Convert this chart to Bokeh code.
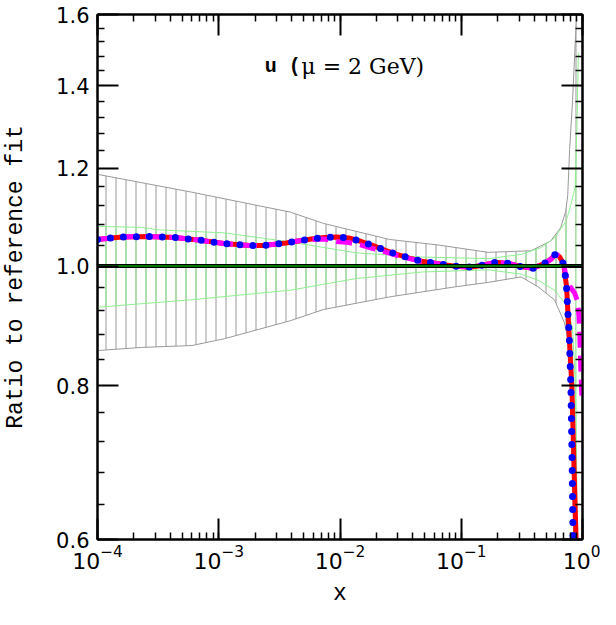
from bokeh.plotting import figure
from bokeh.models import (LogAxis, FixedTicker, LogTicker, PrintfTickFormatter,
                          CustomJSTickFormatter, Span, Label)
from bokeh.embed import file_html
from bokeh.resources import INLINE

# ---- central ratio curve (solid red / dotted blue share it up to x = 0.70) ----
x_fit = [1e-4, 1.3e-4, 1.6e-4, 2.6e-4, 4.3e-4, 6.8e-4, 1.1e-3, 1.8e-3, 2.3e-3, 3.6e-3,
         4.5e-3, 5.8e-3, 7.4e-3, 9.4e-3, 0.0118, 0.015, 0.0188, 0.0236, 0.0294, 0.0373,
         0.047, 0.059, 0.075, 0.0955, 0.121, 0.153, 0.192, 0.247, 0.31, 0.39,
         0.487, 0.55, 0.60, 0.65, 0.70]
r_fit = [1.051, 1.054, 1.056, 1.057, 1.055, 1.050, 1.043, 1.039, 1.039, 1.044,
         1.048, 1.052, 1.055, 1.056, 1.054, 1.047, 1.039, 1.030, 1.022, 1.015,
         1.009, 1.006, 1.002, 0.999, 0.998, 1.002, 1.007, 1.005, 0.999, 0.996,
         1.005, 1.013, 1.023, 1.017, 1.003]
# magenta dashed curve on the same x grid
m_fit = [1.051, 1.054, 1.056, 1.057, 1.055, 1.050, 1.043, 1.039, 1.039, 1.044,
         1.048, 1.051, 1.052, 1.047, 1.045, 1.040, 1.033, 1.027, 1.020, 1.014,
         1.009, 1.006, 1.002, 0.999, 0.998, 1.002, 1.007, 1.005, 0.999, 0.996,
         1.005, 1.013, 1.023, 1.018, 1.005]

# large-x tails
x_red_tail = [0.739, 0.78, 0.818, 0.85, 0.885, 0.91]
r_red_tail = [0.962, 0.871, 0.797, 0.692, 0.60, 0.53]
x_blue_tail = [0.723, 0.740, 0.759, 0.779, 0.803, 0.821, 0.836, 0.85]
r_blue_tail = [0.980, 0.958, 0.914, 0.873, 0.795, 0.692, 0.60, 0.54]
x_mag_tail = [0.72, 0.76, 0.79, 0.86, 0.91, 0.936, 0.951, 0.963, 0.99]
r_mag_tail = [0.988, 0.972, 0.962, 0.951, 0.936, 0.910, 0.878, 0.839, 0.78]

# ---- outer (gray) uncertainty band ----
gray_up_x = [1e-4, 6e-4, 3.9e-3, 7.3e-3, 0.0256, 0.0655, 0.167, 0.377, 0.546, 0.66,
             0.726, 0.755, 0.783, 0.828, 0.881, 0.91]
gray_up_y = [1.187, 1.148, 1.106, 1.083, 1.051, 1.040, 1.026, 1.029, 1.048, 1.074,
             1.107, 1.14, 1.243, 1.362, 1.557, 1.75]
gray_lo_x = [1e-4, 2.3e-4, 6e-4, 1.11e-3, 3.9e-3, 7.3e-3, 0.0256, 0.0897, 0.167, 0.312,
             0.43, 0.587, 0.709, 0.755, 0.80, 0.84, 0.86]
gray_lo_y = [0.854, 0.859, 0.862, 0.873, 0.903, 0.922, 0.944, 0.962, 0.970, 0.980,
             0.962, 0.939, 0.900, 0.873, 0.79, 0.62, 0.55]

# ---- inner (green) uncertainty band ----
green_up_x = [1e-4, 2.3e-4, 3.19e-4, 1.11e-3, 3.9e-3, 0.01368, 0.0476, 0.167, 0.312, 0.454,
              0.587, 0.731, 0.80, 0.87, 0.90, 0.925]
green_up_y = [1.077, 1.075, 1.070, 1.064, 1.046, 1.025, 1.017, 1.014, 1.022, 1.035,
              1.054, 1.087, 1.12, 1.16, 1.30, 1.49]
green_lo_x = [1e-4, 6e-4, 3.9e-3, 0.01368, 0.0476, 0.167, 0.312, 0.43, 0.587, 0.755,
              0.828, 0.86, 0.875, 0.893, 0.905, 0.915]
green_lo_y = [0.926, 0.939, 0.956, 0.977, 0.989, 0.993, 0.985, 0.974, 0.956, 0.927,
              0.889, 0.83, 0.79, 0.70, 0.60, 0.52]

# ---- ticks ----
y_major = [0.6, 0.8, 1.0, 1.2, 1.4, 1.6]
y_minor = [0.64, 0.68, 0.72, 0.76, 0.84, 0.88, 0.92, 0.96, 1.04, 1.08, 1.12, 1.16,
           1.24, 1.28, 1.32, 1.36, 1.44, 1.48, 1.52, 1.56]

x_red = x_fit + x_red_tail
y_red = r_fit + r_red_tail
x_blue = x_fit + x_blue_tail
y_blue = r_fit + r_blue_tail
x_mag = x_fit + x_mag_tail
y_mag = m_fit + r_mag_tail

p = figure(width=600, height=609, x_axis_type="log", y_axis_type="log",
           x_range=(1e-4, 1.0), y_range=(0.6, 1.6),
           min_border_left=96, min_border_right=18, min_border_top=14, min_border_bottom=63,
           output_backend="svg", toolbar_location=None)
p.xgrid.visible = False
p.ygrid.visible = False
p.outline_line_color = "black"
p.outline_line_width = 2

bottom = p.xaxis[0]
left = p.yaxis[0]

# bands: hatched polygons + outlines
p.patch(gray_up_x + gray_lo_x[::-1], gray_up_y + gray_lo_y[::-1],
        fill_color=None, line_color=None, hatch_pattern="vertical_line",
        hatch_color="#999999", hatch_scale=10, hatch_weight=1)
p.line(gray_up_x, gray_up_y, line_color="#999999", line_width=1)
p.line(gray_lo_x, gray_lo_y, line_color="#999999", line_width=1)
p.patch(green_up_x + green_lo_x[::-1], green_up_y + green_lo_y[::-1],
        fill_color=None, line_color=None, hatch_pattern="vertical_line",
        hatch_color="#8fef8f", hatch_scale=10, hatch_weight=1)
p.line(green_up_x, green_up_y, line_color="#8fef8f", line_width=1)
p.line(green_lo_x, green_lo_y, line_color="#8fef8f", line_width=1)

ref_black = Span(location=1.0, dimension="width", line_color="black", line_width=4, level="glyph")
ref_green = Span(location=1.0, dimension="width", line_color="#00a000", line_width=1.5, level="glyph")
p.add_layout(ref_black)
p.add_layout(ref_green)

p.line(x_red, y_red, line_color="#ff0000", line_width=5)
p.line(x_mag, y_mag, line_color="#ff00ff", line_width=5, line_dash="16 8")
p.line(x_blue, y_blue, line_color="#0000ff", line_width=7, line_dash="0 13", line_cap="round")

# axes
xticker = LogTicker(num_minor_ticks=10)
yticker = FixedTicker(ticks=y_major, minor_ticks=y_minor)
bottom.ticker = xticker
left.ticker = yticker
left.formatter = PrintfTickFormatter(format="%.1f")

top = LogAxis(ticker=xticker, formatter=CustomJSTickFormatter(code="return ''"))
right = LogAxis(ticker=yticker, formatter=CustomJSTickFormatter(code="return ''"))
p.add_layout(top, "above")
p.add_layout(right, "right")

for ax in [bottom, left, top, right]:
    ax.axis_line_width = 2
    ax.major_tick_line_width = 2
    ax.minor_tick_line_width = 1.5
    ax.major_tick_in = 21
    ax.major_tick_out = 0
    ax.minor_tick_in = 7
    ax.minor_tick_out = 0
    ax.major_label_text_font = "DejaVu Sans"
    ax.major_label_text_font_size = "21px"
    ax.major_label_text_color = "black"
for ax in [top, right]:
    ax.major_label_standoff = 0
bottom.major_label_text_font_size = "22px"

bottom.axis_label = "x"
left.axis_label = "Ratio to reference fit"
for ax in [bottom, left]:
    ax.axis_label_text_font = "Liberation Mono"
    ax.axis_label_text_font_size = "23px"
    ax.axis_label_text_font_style = "normal"
    ax.axis_label_text_color = "black"
bottom.major_label_standoff = 5
bottom.axis_label_standoff = 9
left.major_label_standoff = 8
left.axis_label_standoff = 24

p.add_layout(Label(x=2.4e-3, y=1.451, text="u (", text_font="Liberation Mono",
                   text_font_style="bold", text_font_size="20px", text_baseline="alphabetic",
                   text_color="black"))
p.add_layout(Label(x=4.8e-3, y=1.451, text="μ = 2 GeV)", text_font="DejaVu Serif",
                   text_font_size="22px", text_baseline="alphabetic", text_color="black"))

open("out.html", "w").write(file_html(p, INLINE))
